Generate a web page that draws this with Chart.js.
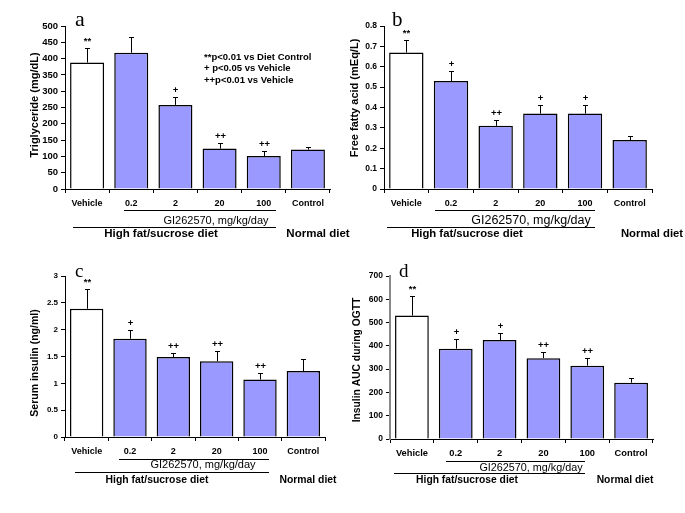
<!DOCTYPE html>
<html>
<head>
<meta charset="utf-8">
<script src="https://cdn.jsdelivr.net/npm/chart.js@4"></script>
<style>
  body { margin: 0; background: #fff; }
  #wrap { position: relative; width: 685px; height: 513px; }
  canvas { position: absolute; left: 0; top: 0; }
</style>
</head>
<body>
<div id="wrap">
  <canvas id="chartA" width="685" height="513"></canvas>
  <canvas id="chartB" width="685" height="513"></canvas>
  <canvas id="chartC" width="685" height="513"></canvas>
  <canvas id="chartD" width="685" height="513"></canvas>
</div>
<script>
// groups on the x axis
const categories = ['Vehicle', '0.2', '2', '20', '100', 'Control'];

// a: triglyceride (mg/dL)
const trigValues = [388, 418, 258, 124, 101, 121];
const trigErrors = [45, 47, 25, 16, 16, 8];
const trigMarks = ['**', '', '+', '++', '++', ''];

// b: free fatty acid (mEq/L)
const ffaValues = [0.67, 0.53, 0.31, 0.37, 0.37, 0.24];
const ffaErrors = [0.06, 0.05, 0.03, 0.04, 0.04, 0.02];
const ffaMarks = ['**', '+', '++', '+', '+', ''];

// c: serum insulin (ng/ml)
const insValues = [2.39, 1.83, 1.49, 1.41, 1.07, 1.23];
const insErrors = [0.36, 0.17, 0.08, 0.20, 0.13, 0.22];
const insMarks = ['**', '+', '++', '++', '++', ''];

// d: insulin AUC during OGTT
const aucValues = [530, 388, 425, 347, 315, 242];
const aucErrors = [85, 40, 32, 25, 32, 18];
const aucMarks = ['**', '+', '+', '++', '++', ''];

const legendLines = ['**p<0.01 vs Diet Control', '+ p<0.05 vs Vehicle', '++p<0.01 vs Vehicle'];

const SANS = '"Liberation Sans", Arial, sans-serif';
const SERIF = '"Liberation Serif", "Times New Roman", serif';
const W = 685, H = 513;

const panels = [
  { canvas: 'chartA', letter: 'a', values: trigValues, errors: trigErrors, marks: trigMarks,
    yMax: 500, yStep: 50, title: 'Triglyceride (mg/dL)',
    area: { l: 65, r: 330, t: 26, b: 189 }, tickFont: 9.5, catFont: 9, titleFont: 11,
    titlePos: [35, 105], letterPos: [75, 26], letterFont: 22,
    line1: [124, 276, 210], line2: [73, 276, 227],
    gi: [216, 221, 11], hf: [161, 234, 11.5], normal: [318, 234, 11.5], axisColor: '#000' },
  { canvas: 'chartB', letter: 'b', values: ffaValues, errors: ffaErrors, marks: ffaMarks,
    yMax: 0.8, yStep: 0.1, title: 'Free fatty acid (mEq/L)',
    area: { l: 384, r: 652, t: 26, b: 189 }, tickFont: 8.5, catFont: 9, titleFont: 11,
    titlePos: [355, 98], letterPos: [392, 26], letterFont: 21,
    line1: [435, 595, 210], line2: [387, 595, 227],
    gi: [531, 221, 12.5], hf: [467, 234, 11.3], normal: [652, 234, 11.3], axisColor: '#000' },
  { canvas: 'chartC', letter: 'c', values: insValues, errors: insErrors, marks: insMarks,
    yMax: 3, yStep: 0.5, title: 'Serum insulin (ng/ml)',
    area: { l: 65, r: 325, t: 276, b: 437 }, tickFont: 8, catFont: 9, titleFont: 10.5,
    titlePos: [35, 363], letterPos: [75, 277], letterFont: 19,
    line1: [119, 269, 459], line2: [75, 269, 472],
    gi: [203, 465, 11], hf: [157, 480, 10.4], normal: [308, 480, 10.4], axisColor: '#000' },
  { canvas: 'chartD', letter: 'd', values: aucValues, errors: aucErrors, marks: aucMarks,
    yMax: 700, yStep: 100, title: 'Insulin AUC during OGTT',
    area: { l: 390, r: 653, t: 276, b: 439 }, tickFont: 8.5, catFont: 9.3, titleFont: 10.3,
    titlePos: [357, 360], letterPos: [399, 277], letterFont: 19,
    line1: [446, 585, 461], line2: [394, 585, 473],
    gi: [531, 468, 10.8], hf: [467, 480, 10.3], normal: [625, 480, 10.3], axisColor: '#888' }
];

// error bars, significance marks and all the extra text
const decorPlugin = {
  id: 'decor',
  afterDraw(chart) {
    const p = chart.config.options.panel;
    const ctx = chart.ctx;
    const xs = chart.scales.x, ys = chart.scales.y;
    ctx.save();
    ctx.strokeStyle = '#000';
    ctx.fillStyle = '#000';
    ctx.lineWidth = 1;
    p.values.forEach((v, i) => {
      const x = Math.round(xs.getPixelForValue(i)) + 0.5;
      const y0 = ys.getPixelForValue(v);
      const y1 = Math.round(ys.getPixelForValue(v + p.errors[i])) + 0.5;
      ctx.beginPath();
      ctx.moveTo(x, y0);
      ctx.lineTo(x, y1);
      ctx.moveTo(x - 2.5, y1);
      ctx.lineTo(x + 2.5, y1);
      ctx.stroke();
      if (p.marks[i]) {
        ctx.font = 'bold 9.5px ' + SANS;
        ctx.textAlign = 'center';
        ctx.textBaseline = 'middle';
        ctx.fillText(p.marks[i], x, y1 - 7);
      }
    });

    // y title
    ctx.save();
    ctx.translate(p.titlePos[0], p.titlePos[1]);
    ctx.rotate(-Math.PI / 2);
    ctx.font = 'bold ' + p.titleFont + 'px ' + SANS;
    ctx.textAlign = 'center';
    ctx.textBaseline = 'middle';
    ctx.fillText(p.title, 0, 0);
    ctx.restore();

    // panel letter
    ctx.font = p.letterFont + 'px ' + SERIF;
    ctx.textAlign = 'left';
    ctx.textBaseline = 'alphabetic';
    ctx.fillText(p.letter, p.letterPos[0], p.letterPos[1]);

    // group lines
    ctx.lineWidth = 1;
    [p.line1, p.line2].forEach(l => {
      ctx.beginPath();
      ctx.moveTo(l[0], l[2] + 0.5);
      ctx.lineTo(l[1], l[2] + 0.5);
      ctx.stroke();
    });
    ctx.textAlign = 'center';
    ctx.textBaseline = 'middle';
    ctx.font = p.gi[2] + 'px ' + SANS;
    ctx.fillText('GI262570, mg/kg/day', p.gi[0], p.gi[1]);
    ctx.font = 'bold ' + p.hf[2] + 'px ' + SANS;
    ctx.fillText('High fat/sucrose diet', p.hf[0], p.hf[1]);
    ctx.font = 'bold ' + p.normal[2] + 'px ' + SANS;
    ctx.fillText('Normal diet', p.normal[0], p.normal[1]);

    if (p.letter === 'a') {
      ctx.font = 'bold 9.5px ' + SANS;
      ctx.textAlign = 'left';
      legendLines.forEach((t, i) => ctx.fillText(t, 204, 57 + i * 11.5));
    }
    ctx.restore();
  }
};

panels.forEach(p => {
  const yWidth = 45, xHeight = 30;
  const ctx = document.getElementById(p.canvas).getContext('2d');
  new Chart(ctx, {
    type: 'bar',
    data: {
      labels: categories,
      datasets: [{
        data: p.values,
        backgroundColor: categories.map((c, i) => i === 0 ? '#ffffff' : '#9999ff'),
        borderColor: '#000',
        borderWidth: 1.5,
        barPercentage: 0.77,
        categoryPercentage: 1
      }]
    },
    options: {
      panel: p,
      responsive: false,
      animation: false,
      events: [],
      layout: {
        padding: {
          left: p.area.l - yWidth,
          right: W - p.area.r,
          top: p.area.t,
          bottom: H - p.area.b - xHeight
        }
      },
      plugins: { legend: { display: false }, tooltip: { enabled: false } },
      scales: {
        x: {
          offset: true,
          grid: { drawOnChartArea: false, color: '#000', tickLength: 4, offset: true },
          border: { color: '#000' },
          ticks: { color: '#000', font: { family: SANS, size: p.catFont, weight: 'bold' }, padding: 5, maxRotation: 0, autoSkip: false },
          afterFit: s => { s.height = xHeight; }
        },
        y: {
          min: 0,
          max: p.yMax,
          grid: { drawOnChartArea: false, color: '#000', tickLength: 4 },
          border: { color: p.axisColor, width: p.axisColor === '#000' ? 1 : 2 },
          ticks: {
            stepSize: p.yStep, color: '#000', padding: 3,
            font: { family: SANS, size: p.tickFont, weight: 'bold' },
            callback: v => String(Math.round(v * 100) / 100)
          },
          afterFit: s => { s.width = yWidth; }
        }
      }
    },
    plugins: [decorPlugin]
  });
});
</script>
</body>
</html>
